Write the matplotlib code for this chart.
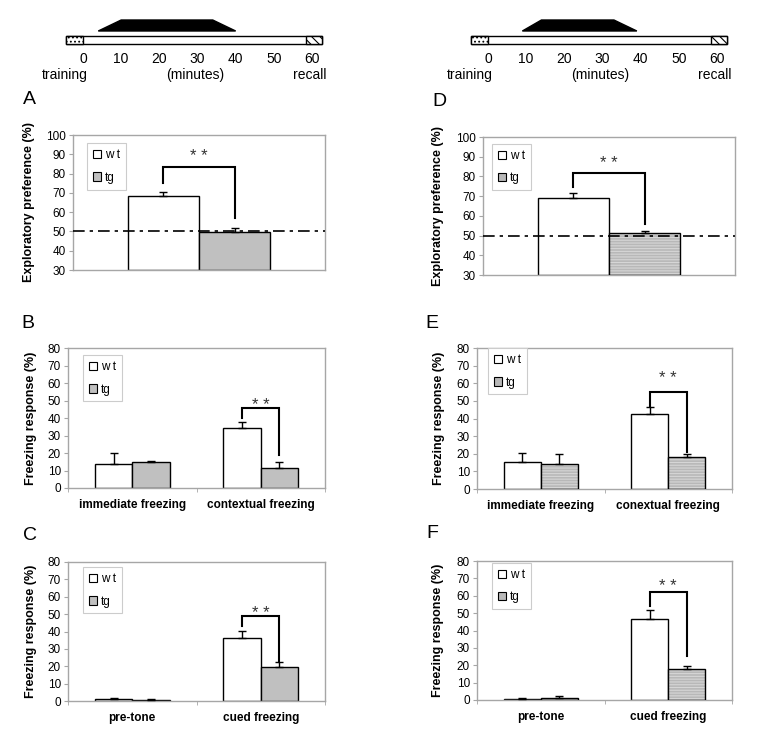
import numpy as np
import matplotlib
matplotlib.use("Agg")
import matplotlib.pyplot as plt
from matplotlib.patches import Rectangle, Polygon, Patch

plt.rcParams.update({
    "font.family": "Liberation Sans",
    "font.size": 8.5,
    "hatch.linewidth": 0.8,
})

W, H = 762, 740

# ── timeline schematic (minutes) ───────────────────────────────────────────
TL_TICKS = [0, 10, 20, 30, 40, 50, 60]
INFUSION_LEFT = [4, 10, 34, 40]    # ramp start, plateau start, plateau end, ramp end
INFUSION_RIGHT = [9, 14, 33, 39]

# ── panel data ─────────────────────────────────────────────────────────────
A_cats = [""]
A_wt, A_wt_err = [68.6], [2.0]
A_tg, A_tg_err = [49.7], [2.0]

D_cats = [""]
D_wt, D_wt_err = [68.9], [2.8]
D_tg, D_tg_err = [51.3], [1.1]

B_cats = ["immediate freezing", "contextual freezing"]
B_wt, B_wt_err = [13.7, 34.1], [6.1, 3.6]
B_tg, B_tg_err = [14.9, 11.6], [0.5, 3.3]

E_cats = ["immediate freezing", "conextual freezing"]
E_wt, E_wt_err = [15.5, 42.6], [5.0, 3.8]
E_tg, E_tg_err = [14.4, 18.0], [5.5, 1.9]

C_cats = ["pre-tone", "cued freezing"]
C_wt, C_wt_err = [1.1, 36.4], [0.9, 3.8]
C_tg, C_tg_err = [0.7, 19.7], [0.6, 2.9]

F_cats = ["pre-tone", "cued freezing"]
F_wt, F_wt_err = [0.5, 46.4], [0.5, 5.3]
F_tg, F_tg_err = [1.3, 18.0], [1.2, 1.7]

# significance brackets: (category, left start, top, right end, star height)
A_sig = (0, 75.0, 83.6, 57.2, 88.8)
D_sig = (0, 74.8, 81.9, 55.7, 86.8)
B_sig = (1, 39.8, 45.5, 18.9, 47.4)
E_sig = (1, 46.8, 55.3, 21.2, 62.5)
C_sig = (1, 43.0, 49.0, 22.6, 50.4)
F_sig = (1, 53.9, 61.9, 25.4, 65.5)

FRAME = "#a6a6a6"
TG_GREY = "#c0c0c0"

fig = plt.figure(figsize=(W / 100, H / 100), dpi=100)


def add_ax(l, t, r, b):
    return fig.add_axes([l / W, 1 - b / H, (r - l) / W, (b - t) / H])


def timeline(l, r, zero_px, infusion):
    ax = add_ax(l, 10, r, 85)
    ppm = (712 - 483) / 60.0   # px per minute
    ax.set_xlim(-(zero_px - l) / ppm, (r - zero_px) / ppm)
    ax.set_ylim(75, 0)
    ax.axis("off")
    # bar: dotted training, white delay, hatched recall
    ax.add_patch(Rectangle((-4.5, 26), 67, 8, facecolor="white",
                           edgecolor="black", lw=1))
    ax.add_patch(Rectangle((-4.5, 26), 4.5, 8, facecolor="white",
                           edgecolor="black", lw=1, hatch="...."))
    ax.add_patch(Rectangle((58.5, 26), 4, 8, facecolor="white",
                           edgecolor="black", lw=1, hatch="\\\\\\\\"))
    a, b, c, d = infusion
    ax.add_patch(Polygon([(a, 21), (b, 10), (c, 10), (d, 21)],
                         closed=True, facecolor="black", edgecolor="black"))
    for t in TL_TICKS:
        ax.text(t, 49, str(t), ha="center", va="center", fontsize=10)
    ax.text(-4.7, 65, "training", ha="center", va="center", fontsize=10)
    ax.text(29.5, 65, "(minutes)", ha="center", va="center", fontsize=10)
    ax.text(59.5, 65, "recall", ha="center", va="center", fontsize=10)


timeline(40, 350, 83, INFUSION_LEFT)
timeline(440, 750, 488, INFUSION_RIGHT)


def panel(ax, cats, wt, wt_err, tg, tg_err, ymin, ymax, ylabel, sig,
          striped, leg_xy, ylab_x, ref=None):
    n = len(cats)
    x = np.arange(n)
    w = 0.29 if n > 1 else 0.282
    base = ymin
    ax.bar(x - w / 2, np.array(wt) - base, w, bottom=base, color="white",
           edgecolor="black", lw=1, zorder=2)
    if striped:
        ax.bar(x + w / 2, np.array(tg) - base, w, bottom=base, color="#b8b8b8",
               edgecolor="#d6d6d6", hatch="------", lw=0, zorder=2)
        ax.bar(x + w / 2, np.array(tg) - base, w, bottom=base, fill=False,
               edgecolor="black", lw=1, zorder=3)
    else:
        ax.bar(x + w / 2, np.array(tg) - base, w, bottom=base, color=TG_GREY,
               edgecolor="black", lw=1, zorder=2)
    z = np.zeros(n)
    ax.errorbar(x - w / 2, wt, yerr=[z, wt_err], fmt="none", ecolor="black",
                elinewidth=1, capsize=3, capthick=1, zorder=4)
    ax.errorbar(x + w / 2, tg, yerr=[z, tg_err], fmt="none", ecolor="black",
                elinewidth=1, capsize=3, capthick=1, zorder=4)

    if ref is not None:
        ax.axhline(ref, color="black", lw=1.2, ls=(0, (7, 3, 2, 3)), zorder=5)

    ci, y0, ytop, y1, ystar = sig
    x1, x2 = ci - w / 2, ci + w / 2
    ax.plot([x1, x1, x2, x2], [y0, ytop, ytop, y1], color="black", lw=1.5,
            zorder=6, solid_joinstyle="miter")
    ax.text(ci, ystar, "* *", ha="center", va="center", fontsize=12,
            color="#333333", zorder=7)

    ax.set_xlim(-0.5, n - 0.5)
    ax.set_ylim(ymin, ymax)
    ax.set_yticks(np.arange(ymin, ymax + 1, 10))
    for s in ax.spines.values():
        s.set_color(FRAME)
        s.set_linewidth(1)
    ax.tick_params(axis="y", length=3, color=FRAME, labelsize=8.5, pad=2)
    if n > 1:
        ax.set_xticks(x, cats, fontweight="bold", fontsize=8.5)
        ax.set_xticks(np.arange(-0.5, n, 1.0), minor=True)
        ax.tick_params(axis="x", which="major", length=0, pad=8)
        ax.tick_params(axis="x", which="minor", length=3, color=FRAME)
    else:
        ax.set_xticks([])
    ax.set_ylabel(ylabel, fontweight="bold", fontsize=9)
    ax.yaxis.set_label_coords(ylab_x, 0.5)

    if striped:
        tg_handle = Patch(facecolor="#b8b8b8", edgecolor="black", lw=0.8)
    else:
        tg_handle = Patch(facecolor=TG_GREY, edgecolor="black", lw=0.8)
    handles = [Patch(facecolor="white", edgecolor="black", lw=0.8), tg_handle]
    leg = ax.legend(handles, ["w t", "tg"], loc="upper left",
                    bbox_to_anchor=leg_xy, borderaxespad=0, fontsize=8.5,
                    handlelength=0.7, handleheight=0.7, handletextpad=0.3,
                    labelspacing=0.9, borderpad=0.5, fancybox=False,
                    framealpha=1, edgecolor="#cccccc")
    leg.get_frame().set_linewidth(0.8)


axA = add_ax(73, 135, 325, 270)
panel(axA, A_cats, A_wt, A_wt_err, A_tg, A_tg_err, 30, 100,
      "Exploratory preference (%)", A_sig, False, (0.056, 0.94), -0.15, ref=50)
axD = add_ax(483, 137, 735, 275)
panel(axD, D_cats, D_wt, D_wt_err, D_tg, D_tg_err, 30, 100,
      "Exploratory preference (%)", D_sig, True, (0.036, 0.95), -0.155, ref=50)

axB = add_ax(68, 348, 325, 488)
panel(axB, B_cats, B_wt, B_wt_err, B_tg, B_tg_err, 0, 80,
      "Freezing response (%)", B_sig, False, (0.058, 0.95), -0.12)
axE = add_ax(477, 348, 732, 489)
panel(axE, E_cats, E_wt, E_wt_err, E_tg, E_tg_err, 0, 80,
      "Freezing response (%)", E_sig, True, (0.043, 1.0), -0.125)

axC = add_ax(68, 562, 325, 701)
panel(axC, C_cats, C_wt, C_wt_err, C_tg, C_tg_err, 0, 80,
      "Freezing response (%)", C_sig, False, (0.058, 0.964), -0.12)
axF = add_ax(477, 561, 732, 700)
panel(axF, F_cats, F_wt, F_wt_err, F_tg, F_tg_err, 0, 80,
      "Freezing response (%)", F_sig, True, (0.059, 0.986), -0.13)

# panel letters
for letter, px, py in [("A", 29, 100), ("B", 28, 323), ("C", 30, 535),
                       ("D", 439, 101), ("E", 432, 323), ("F", 432, 534)]:
    fig.text(px / W, 1 - py / H, letter, ha="center", va="center", fontsize=14)

fig.savefig("out.png", dpi=100)
